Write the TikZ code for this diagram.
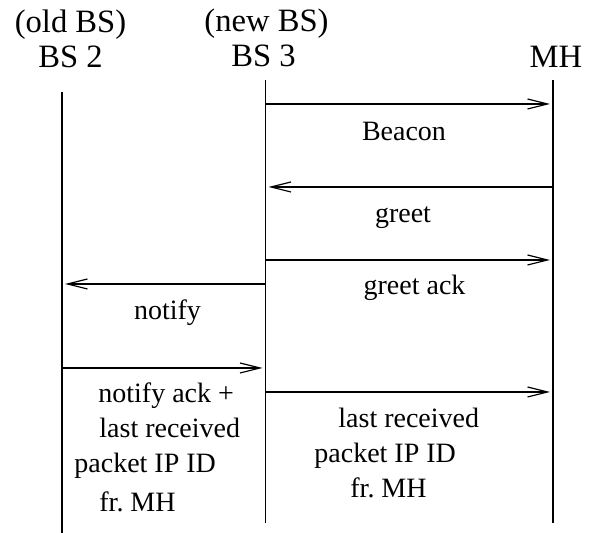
\documentclass[tikz,border=0pt]{standalone}
\usepackage{fontspec}
\setmainfont{Liberation Serif}
\usetikzlibrary{arrows.meta}
\frenchspacing

\begin{document}
\begin{tikzpicture}[x=0.5pt, y=-0.5pt,
  head/.style={font=\fontsize{16.3}{19}\selectfont, anchor=base, inner sep=0pt},
  lbl/.style={font=\fontsize{14}{17}\selectfont, anchor=base, inner sep=0pt},
  lblw/.style={lbl, anchor=base west},
  life/.style={line width=0.6pt},
  msg/.style={-{Straight Barb[length=10pt, width=5pt]}, line width=0.6pt, shorten >=1.5pt}]
\useasboundingbox (0,0) rectangle (589,533);
% Headers
\node[head] (old) at (70.5,33) {(old BS)};
\node[head] (bs2) at (70.5,68) {BS 2};
\node[head] (new) at (266.5,32) {(new BS)};
\node[head] (bs3) at (263.5,67) {BS 3};
\node[head] (mh) at (556,68) {MH};
% Lifelines
\coordinate (bs2-top) at (62,92);    \coordinate (bs2-end) at (62,533);
\coordinate (bs3-top) at (265.5,80); \coordinate (bs3-end) at (265.5,523);
\coordinate (mh-top) at (553,80);    \coordinate (mh-end) at (553,523);
\draw[life] (bs2-top) -- (bs2-end);
\draw[life] (bs3-top) -- (bs3-end);
\draw[life] (mh-top) -- (mh-end);
% Beacon
\coordinate (bs3-1) at (265.5,104); \coordinate (mh-1) at (553,104);
\draw[msg] (bs3-1) -- (mh-1);
\node[lbl] (beacon) at (404,141) {Beacon};
% greet
\coordinate (bs3-2) at (265.5,187); \coordinate (mh-2) at (553,187);
\draw[msg] (mh-2) -- (bs3-2);
\node[lbl] (greet) at (403,223) {greet};
% greet ack
\coordinate (bs3-3) at (265.5,260); \coordinate (mh-3) at (553,260);
\draw[msg] (bs3-3) -- (mh-3);
\node[lbl] (gack) at (414.5,295) {greet ack};
% notify
\coordinate (bs3-4) at (265.5,284); \coordinate (bs2-4) at (62,284);
\draw[msg] (bs3-4) -- (bs2-4);
\node[lbl] (notify) at (167.5,320) {notify};
% notify ack
\coordinate (bs2-5) at (62,368); \coordinate (bs3-5) at (265.5,368);
\draw[msg] (bs2-5) -- (bs3-5);
\node[lblw] (nack1) at (98,403) {notify ack +};
\node[lblw] (nack2) at (99,438) {last received};
\node[lblw] (nack3) at (74,473) {packet IP ID};
\node[lblw] (nack4) at (99,512) {fr. MH};
% forward to MH
\coordinate (bs3-6) at (265.5,392); \coordinate (mh-6) at (553,392);
\draw[msg] (bs3-6) -- (mh-6);
\node[lblw] (fwd1) at (338,428) {last received};
\node[lblw] (fwd2) at (314,463) {packet IP ID};
\node[lblw] (fwd3) at (350,498) {fr. MH};
\end{tikzpicture}
\end{document}
